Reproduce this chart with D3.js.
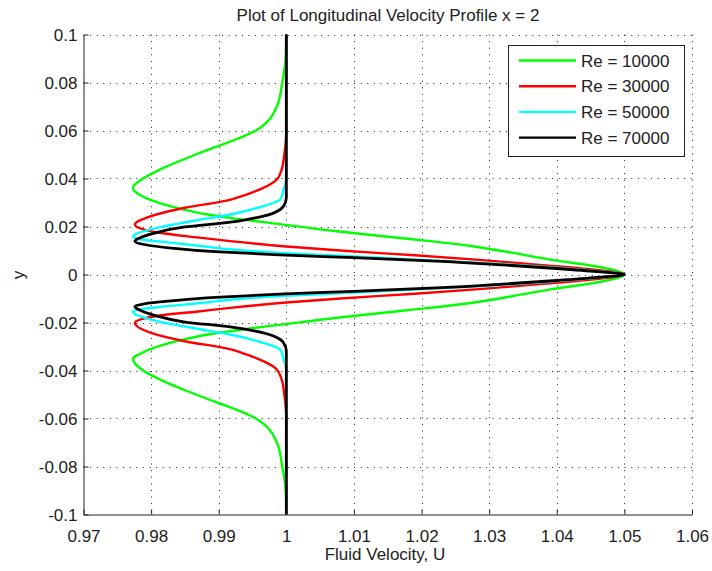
<!DOCTYPE html>
<html>
<head>
<meta charset="utf-8">
<script src="https://cdn.jsdelivr.net/npm/d3@7"></script>
<style>
  body { margin: 0; background: #fff; }
  text { font-family: "Liberation Sans", Arial, sans-serif; fill: #222; }
</style>
</head>
<body>
<svg id="chart" width="712" height="571"></svg>
<script>
// series as [y, U] pairs, y from top to bottom
const re10000 = [
  [0.1, 1.0000], [0.09, 0.9999], [0.08, 0.9994], [0.07, 0.9986], [0.06, 0.9955],
  [0.05, 0.9866], [0.044, 0.9815], [0.04, 0.9788], [0.036, 0.9773], [0.033, 0.9784],
  [0.031, 0.9800], [0.028, 0.9835], [0.025, 0.9884], [0.0236, 0.9917], [0.021, 0.9990],
  [0.018, 1.0075], [0.015, 1.0175], [0.012, 1.0270], [0.009, 1.0335], [0.006, 1.0395],
  [0.003, 1.0465], [0, 1.0500],
  [-0.003, 1.0465], [-0.006, 1.0395], [-0.009, 1.0335], [-0.012, 1.0270], [-0.015, 1.0175],
  [-0.018, 1.0075], [-0.021, 0.9990], [-0.0236, 0.9917], [-0.025, 0.9884], [-0.028, 0.9835],
  [-0.031, 0.9800], [-0.033, 0.9784], [-0.035, 0.9773], [-0.04, 0.9788], [-0.044, 0.9815],
  [-0.05, 0.9866], [-0.06, 0.9955], [-0.07, 0.9986], [-0.08, 0.9994], [-0.09, 0.9999],
  [-0.1, 1.0000]
];
const re30000 = [
  [0.1, 1.0000], [0.06, 1.0000], [0.05, 0.9997], [0.0437, 0.9993], [0.0396, 0.9986],
  [0.0361, 0.9966], [0.0333, 0.9941], [0.031, 0.9915], [0.0278, 0.9850], [0.0243, 0.9800],
  [0.0208, 0.9776], [0.019, 0.9786], [0.0175, 0.9810], [0.0154, 0.9870], [0.0139, 0.9917],
  [0.0118, 0.9995], [0.010, 1.0080], [0.008, 1.0190], [0.006, 1.0290], [0.004, 1.0375],
  [0.002, 1.0455], [0, 1.0500],
  [-0.002, 1.0455], [-0.004, 1.0375], [-0.006, 1.0290], [-0.008, 1.0190], [-0.010, 1.0080],
  [-0.0118, 0.9995], [-0.0139, 0.9917], [-0.0154, 0.9870], [-0.0172, 0.9810], [-0.0186, 0.9786],
  [-0.0202, 0.9776], [-0.0243, 0.9800], [-0.0278, 0.9850], [-0.031, 0.9915], [-0.0333, 0.9941],
  [-0.0361, 0.9966], [-0.0396, 0.9986], [-0.0437, 0.9993], [-0.05, 0.9997], [-0.06, 1.0000],
  [-0.1, 1.0000]
];
const re50000 = [
  [0.1, 1.0000], [0.04, 1.0000], [0.0354, 0.9996], [0.0313, 0.9991], [0.0285, 0.9966],
  [0.025, 0.9917], [0.0222, 0.9860], [0.0195, 0.9810], [0.0167, 0.9776], [0.0157, 0.9773],
  [0.0146, 0.9785], [0.0135, 0.9820], [0.012, 0.9870], [0.0104, 0.9920], [0.009, 0.9990],
  [0.0075, 1.0100], [0.006, 1.0210], [0.0045, 1.0310], [0.003, 1.0390], [0.0015, 1.0455],
  [0, 1.0500],
  [-0.0015, 1.0455], [-0.003, 1.0390], [-0.0045, 1.0310], [-0.006, 1.0210], [-0.0075, 1.0100],
  [-0.009, 0.9990], [-0.0104, 0.9920], [-0.012, 0.9870], [-0.0133, 0.9820], [-0.0144, 0.9785],
  [-0.0154, 0.9773], [-0.0165, 0.9776], [-0.0195, 0.9810], [-0.0222, 0.9860], [-0.025, 0.9917],
  [-0.0285, 0.9966], [-0.0313, 0.9991], [-0.0354, 0.9996], [-0.04, 1.0000], [-0.1, 1.0000]
];
const re70000 = [
  [0.1, 1.0000], [0.032, 1.0000], [0.0285, 0.9996], [0.0271, 0.9991], [0.0243, 0.9966],
  [0.0229, 0.9941], [0.0218, 0.9917], [0.0198, 0.9850], [0.0172, 0.9805], [0.0152, 0.9783],
  [0.0139, 0.9776], [0.0125, 0.9790], [0.0110, 0.9830], [0.0095, 0.9895], [0.0082, 0.9990],
  [0.0070, 1.0100], [0.0055, 1.0230], [0.0040, 1.0320], [0.0025, 1.0400], [0.0012, 1.0460],
  [0, 1.0500],
  [-0.0012, 1.0460], [-0.0025, 1.0400], [-0.0040, 1.0320], [-0.0055, 1.0230], [-0.0070, 1.0100],
  [-0.0082, 0.9990], [-0.0095, 0.9895], [-0.0110, 0.9830], [-0.0122, 0.9790], [-0.0133, 0.9776],
  [-0.0148, 0.9783], [-0.0170, 0.9805], [-0.0198, 0.9850], [-0.0218, 0.9917], [-0.0229, 0.9941],
  [-0.0243, 0.9966], [-0.0271, 0.9991], [-0.0285, 0.9996], [-0.032, 1.0000], [-0.1, 1.0000]
];

const seriesNames = ["Re = 10000", "Re = 30000", "Re = 50000", "Re = 70000"];
const seriesData = [re10000, re30000, re50000, re70000];
const seriesColors = ["#00ff00", "#ff0000", "#00ffff", "#000000"];

const xTicks = [0.97, 0.98, 0.99, 1, 1.01, 1.02, 1.03, 1.04, 1.05, 1.06];
const xTickLabels = ["0.97", "0.98", "0.99", "1", "1.01", "1.02", "1.03", "1.04", "1.05", "1.06"];
const yTicks = [-0.1, -0.08, -0.06, -0.04, -0.02, 0, 0.02, 0.04, 0.06, 0.08, 0.1];
const yTickLabels = ["-0.1", "-0.08", "-0.06", "-0.04", "-0.02", "0", "0.02", "0.04", "0.06", "0.08", "0.1"];

const svg = d3.select("#chart");
const plotLeft = 83.5, plotRight = 692, plotTop = 34.5, plotBottom = 514.5;

const x = d3.scaleLinear().domain([0.97, 1.06]).range([plotLeft, plotRight]);
const y = d3.scaleLinear().domain([-0.1, 0.1]).range([plotBottom, plotTop]);

// dotted grid
const grid = svg.append("g")
  .attr("stroke", "#222")
  .attr("stroke-width", 1)
  .attr("stroke-dasharray", "1,5.6");
grid.selectAll(".gx").data(xTicks.slice(1)).enter().append("line")
  .attr("x1", d => Math.round(x(d)) + 0.5).attr("x2", d => Math.round(x(d)) + 0.5)
  .attr("y1", plotTop).attr("y2", plotBottom);
grid.selectAll(".gy").data(yTicks.slice(1)).enter().append("line")
  .attr("y1", d => Math.round(y(d)) + 0.5).attr("y2", d => Math.round(y(d)) + 0.5)
  .attr("x1", plotLeft).attr("x2", plotRight);

// curves
const line = d3.line()
  .x(d => x(d[1]))
  .y(d => y(d[0]))
  .curve(d3.curveMonotoneY);

svg.append("g").selectAll("path")
  .data(seriesData).enter().append("path")
  .attr("d", line)
  .attr("fill", "none")
  .attr("stroke", (d, i) => seriesColors[i])
  .attr("stroke-width", (d, i) => i === 3 ? 2.8 : 2.4)
  .attr("stroke-linejoin", "round");

// axes, ticks pointing inwards
const xAxis = d3.axisBottom(x)
  .tickValues(xTicks)
  .tickFormat((d, i) => xTickLabels[i])
  .tickSizeInner(-5).tickSizeOuter(0).tickPadding(11);
const yAxis = d3.axisLeft(y)
  .tickValues(yTicks)
  .tickFormat((d, i) => yTickLabels[i])
  .tickSizeInner(-5).tickSizeOuter(0).tickPadding(11);

const gx = svg.append("g").attr("transform", `translate(0,${plotBottom})`).call(xAxis);
const gy = svg.append("g").attr("transform", `translate(${plotLeft},0)`).call(yAxis);
[gx, gy].forEach(g => {
  g.selectAll("path, line").attr("stroke", "#222");
  g.selectAll("text").attr("font-size", 17).attr("fill", "#222")
    .style("font-family", '"Liberation Sans", Arial, sans-serif');
});
gx.selectAll("text").attr("dy", "0.95em");
gy.selectAll("text").attr("x", -6).attr("dy", "0.36em");

// titles
svg.append("text")
  .attr("x", 388).attr("y", 21)
  .attr("text-anchor", "middle").attr("font-size", 17)
  .text("Plot of Longitudinal Velocity Profile x = 2");
svg.append("text")
  .attr("x", 385).attr("y", 560)
  .attr("text-anchor", "middle").attr("font-size", 17)
  .text("Fluid Velocity, U");
svg.append("text")
  .attr("transform", "translate(24,275) rotate(-90)")
  .attr("text-anchor", "middle").attr("font-size", 17)
  .text("y");

// legend
const legend = svg.append("g");
legend.append("rect")
  .attr("x", 508.5).attr("y", 45.5).attr("width", 176).attr("height", 111)
  .attr("fill", "#fff").attr("stroke", "#222").attr("stroke-width", 1);
const rows = legend.selectAll(".row").data(seriesNames).enter().append("g")
  .attr("transform", (d, i) => `translate(0,${60.5 + i * 25.7})`);
rows.append("line")
  .attr("x1", 519).attr("x2", 576)
  .attr("stroke", (d, i) => seriesColors[i])
  .attr("stroke-width", 2.4);
rows.append("text")
  .attr("x", 581).attr("dy", "0.36em").attr("font-size", 17)
  .text(d => d);
</script>
</body>
</html>
